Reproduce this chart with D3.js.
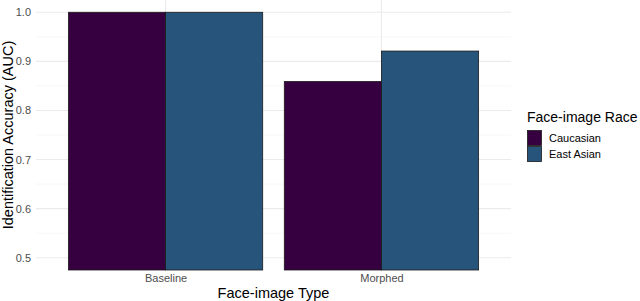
<!DOCTYPE html>
<html>
<head>
<meta charset="utf-8">
<script src="https://cdn.jsdelivr.net/npm/d3@7"></script>
<style>
  body { margin: 0; background: #fff; }
  svg { font-family: "Liberation Sans", Arial, sans-serif; }
</style>
</head>
<body>
<svg width="640" height="301"></svg>
<script>
// data
var types = ["Baseline", "Morphed"];
var races = ["Caucasian", "East Asian"];
var caucasian = [1.0, 0.859];
var eastAsian = [1.0, 0.921];
var yTicks = [0.5, 0.6, 0.7, 0.8, 0.9, 1.0];
var raceColors = ["#360040", "#27547a"];

var svg = d3.select("svg");

var panel = { left: 36, right: 511, top: 0, bottom: 270 };

// ggplot-ish discrete expansion: 0.6 units each side
var x = d3.scalePoint()
  .domain(types)
  .range([panel.left + 0.6 * (panel.right - panel.left) / 2.2,
          panel.right - 0.6 * (panel.right - panel.left) / 2.2]);
var unit = x.step();
var barW = 0.9 * unit / 2;

var y = d3.scaleLinear()
  .domain([0.475, 1.025])
  .range([panel.bottom, panel.top]);

// minor grid
var minor = [0.55, 0.65, 0.75, 0.85, 0.95];
svg.append("g").selectAll("line").data(minor).enter().append("line")
  .attr("x1", panel.left).attr("x2", panel.right)
  .attr("y1", function(d) { return y(d); }).attr("y2", function(d) { return y(d); })
  .attr("stroke", "#f2f2f2").attr("stroke-width", 0.6);

// major grid
svg.append("g").selectAll("line").data(yTicks).enter().append("line")
  .attr("x1", panel.left).attr("x2", panel.right)
  .attr("y1", function(d) { return y(d); }).attr("y2", function(d) { return y(d); })
  .attr("stroke", "#ebebeb").attr("stroke-width", 1.1);
svg.append("g").selectAll("line").data(types).enter().append("line")
  .attr("x1", function(d) { return x(d); }).attr("x2", function(d) { return x(d); })
  .attr("y1", panel.top).attr("y2", panel.bottom)
  .attr("stroke", "#ebebeb").attr("stroke-width", 1.1);

// bars
var rows = [];
types.forEach(function(t, i) {
  rows.push({ type: t, race: 0, value: caucasian[i] });
  rows.push({ type: t, race: 1, value: eastAsian[i] });
});

svg.append("g").selectAll("rect").data(rows).enter().append("rect")
  .attr("x", function(d) { return x(d.type) - barW + d.race * barW; })
  .attr("width", barW)
  .attr("y", function(d) { return y(d.value); })
  .attr("height", function(d) { return y(0.475) - y(d.value); })
  .attr("fill", function(d) { return raceColors[d.race]; })
  .attr("stroke", "#1a1a1a")
  .attr("stroke-width", 0.8);

// axes (text only, theme_minimal)
var yAxis = svg.append("g")
  .attr("transform", "translate(" + panel.left + ",0)")
  .call(d3.axisLeft(y).tickValues(yTicks).tickFormat(d3.format(".1f")).tickSize(0).tickPadding(5));
yAxis.select(".domain").remove();
yAxis.selectAll("text").attr("fill", "#4d4d4d").attr("font-size", "11px")
  .attr("font-family", "Liberation Sans, Arial, sans-serif");

var xAxis = svg.append("g")
  .attr("transform", "translate(0," + panel.bottom + ")")
  .call(d3.axisBottom(x).tickSize(0).tickPadding(4));
xAxis.select(".domain").remove();
xAxis.selectAll("text").attr("fill", "#4d4d4d").attr("font-size", "11px")
  .attr("font-family", "Liberation Sans, Arial, sans-serif");

// axis titles
svg.append("text")
  .attr("x", (panel.left + panel.right) / 2)
  .attr("y", 298)
  .attr("text-anchor", "middle")
  .attr("font-size", "14.5px")
  .text("Face-image Type");

svg.append("text")
  .attr("transform", "translate(13," + ((panel.top + panel.bottom) / 2) + ") rotate(-90)")
  .attr("text-anchor", "middle")
  .attr("font-size", "14.5px")
  .text("Identification Accuracy (AUC)");

// legend
var legend = svg.append("g").attr("transform", "translate(527,0)");
legend.append("text")
  .attr("x", 0).attr("y", 122)
  .attr("font-size", "14px")
  .text("Face-image Race");
legend.selectAll("rect").data(races).enter().append("rect")
  .attr("x", 0.5)
  .attr("y", function(d, i) { return 130.5 + i * 16; })
  .attr("width", 14).attr("height", 15)
  .attr("fill", function(d, i) { return raceColors[i]; })
  .attr("stroke", "#1a1a1a").attr("stroke-width", 0.8);
legend.selectAll("text.lab").data(races).enter().append("text")
  .attr("class", "lab")
  .attr("x", 22)
  .attr("y", function(d, i) { return 142 + i * 16; })
  .attr("font-size", "11px")
  .text(function(d) { return d; });
</script>
</body>
</html>
